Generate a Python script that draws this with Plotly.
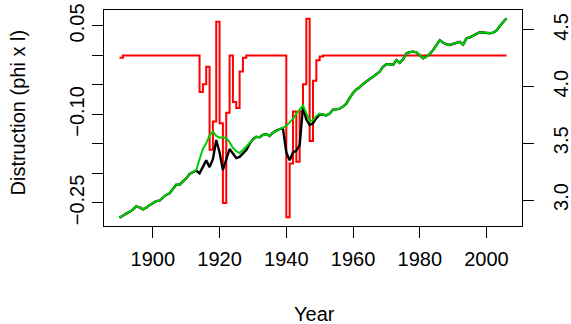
import plotly.graph_objects as go

years = list(range(1890, 2007))

distruction = [
    -0.004, 0.0, 0.0, 0.0, 0.0, 0.0, 0.0, 0.0, 0.0, 0.0,          # 1890-1899
    0.0, 0.0, 0.0, 0.0, 0.0, 0.0, 0.0, 0.0, 0.0, 0.0,             # 1900-1909
    0.0, 0.0, 0.0, 0.0, -0.062, -0.049, -0.019, -0.160, -0.112, 0.057,  # 1910-1919
    -0.115, -0.250, -0.097, 0.0, -0.079, -0.089, -0.027, -0.004, 0.0, 0.0,  # 1920-1929
    0.0, 0.0, 0.0, 0.0, 0.0, 0.0, 0.0, 0.0, 0.0, 0.0,             # 1930-1939
    -0.274, -0.183, -0.095, -0.180, -0.095, -0.049, 0.062, -0.145, -0.043, -0.008,  # 1940-1949
    -0.002, 0.0, 0.0, 0.0, 0.0, 0.0, 0.0, 0.0, 0.0, 0.0,          # 1950-1959
    0.0, 0.0, 0.0, 0.0, 0.0, 0.0, 0.0, 0.0, 0.0, 0.0,             # 1960-1969
    0.0, 0.0, 0.0, 0.0, 0.0, 0.0, 0.0, 0.0, 0.0, 0.0,             # 1970-1979
    0.0, 0.0, 0.0, 0.0, 0.0, 0.0, 0.0, 0.0, 0.0, 0.0,             # 1980-1989
    0.0, 0.0, 0.0, 0.0, 0.0, 0.0, 0.0, 0.0, 0.0, 0.0,             # 1990-1999
    0.0, 0.0, 0.0, 0.0, 0.0, 0.0, 0.0,                            # 2000-2006
]

observed = [
    2.844, 2.865, 2.880, 2.895, 2.915, 2.945, 2.935, 2.918, 2.932, 2.955,  # 1890s
    2.975, 2.990, 2.995, 3.020, 3.045, 3.060, 3.095, 3.135, 3.135, 3.160,  # 1900s
    3.190, 3.230, 3.245, 3.260, 3.235, 3.300, 3.350, 3.290, 3.360, 3.530,  # 1910s
    3.420, 3.265, 3.360, 3.450, 3.410, 3.370, 3.380, 3.410, 3.440, 3.495,  # 1920s
    3.535, 3.558, 3.553, 3.574, 3.582, 3.565, 3.594, 3.612, 3.625, 3.630,  # 1930s
    3.420, 3.350, 3.420, 3.435, 3.485, 3.820, 3.710, 3.662, 3.677, 3.722,  # 1940s
    3.755, 3.755, 3.745, 3.762, 3.798, 3.800, 3.806, 3.824, 3.850, 3.900,  # 1950s
    3.945, 3.975, 3.995, 4.024, 4.050, 4.068, 4.088, 4.109, 4.132, 4.176,  # 1960s
    4.197, 4.197, 4.191, 4.235, 4.210, 4.241, 4.294, 4.305, 4.309, 4.303,  # 1970s
    4.279, 4.250, 4.265, 4.288, 4.324, 4.368, 4.410, 4.388, 4.374, 4.368,  # 1980s
    4.376, 4.386, 4.395, 4.370, 4.426, 4.435, 4.447, 4.465, 4.480, 4.476,  # 1990s
    4.471, 4.471, 4.476, 4.494, 4.535, 4.573, 4.603,                       # 2000s
]

counterfactual = [
    2.844, 2.865, 2.880, 2.895, 2.915, 2.945, 2.935, 2.918, 2.932, 2.955,  # 1890s
    2.975, 2.990, 2.995, 3.020, 3.045, 3.060, 3.095, 3.135, 3.135, 3.160,  # 1900s
    3.190, 3.230, 3.245, 3.265, 3.360, 3.450, 3.500, 3.570, 3.603, 3.565,  # 1910s
    3.550, 3.553, 3.545, 3.510, 3.460, 3.430, 3.415, 3.440, 3.470, 3.505,  # 1920s
    3.535, 3.558, 3.553, 3.574, 3.582, 3.565, 3.594, 3.612, 3.625, 3.638,  # 1930s
    3.655, 3.685, 3.715, 3.760, 3.800, 3.835, 3.765, 3.695, 3.705, 3.742,  # 1940s
    3.762, 3.755, 3.745, 3.762, 3.798, 3.800, 3.806, 3.824, 3.850, 3.900,  # 1950s
    3.945, 3.975, 3.995, 4.024, 4.050, 4.068, 4.088, 4.109, 4.132, 4.176,  # 1960s
    4.197, 4.197, 4.191, 4.235, 4.210, 4.241, 4.294, 4.305, 4.309, 4.303,  # 1970s
    4.279, 4.250, 4.265, 4.288, 4.324, 4.368, 4.410, 4.388, 4.374, 4.368,  # 1980s
    4.376, 4.386, 4.395, 4.370, 4.426, 4.435, 4.447, 4.465, 4.480, 4.476,  # 1990s
    4.471, 4.471, 4.476, 4.494, 4.535, 4.573, 4.603,                       # 2000s
]

x_ticks = [1900, 1920, 1940, 1960, 1980, 2000]
left_ticks = [-0.25, -0.20, -0.15, -0.10, -0.05, 0.0, 0.05]
left_labels = ["\u22120.25", "", "", "\u22120.10", "", "", "0.05"]
right_ticks = [3.0, 3.5, 4.0, 4.5]
right_labels = ["3.0", "3.5", "4.0", "4.5"]

FONT = "Liberation Sans, Arial, Helvetica, sans-serif"

fig = go.Figure()
fig.add_trace(go.Scatter(x=years, y=distruction, mode="lines", line=dict(color="#FF0000", width=2, shape="hv"),
                         yaxis="y", showlegend=False))
fig.add_trace(go.Scatter(x=years, y=observed, mode="lines", line=dict(color="#000000", width=2.4),
                         yaxis="y2", showlegend=False))
fig.add_trace(go.Scatter(x=years, y=counterfactual, mode="lines", line=dict(color="#00CD00", width=2),
                         yaxis="y2", showlegend=False))

fig.update_layout(
    width=571, height=324,
    margin=dict(l=104, r=49, t=10, b=98, autoexpand=False),
    paper_bgcolor="white", plot_bgcolor="white",
    font=dict(family=FONT, size=20, color="black"),
    xaxis=dict(range=[1885.36, 2010.64], tickvals=x_ticks, ticks="outside", ticklen=11, tickwidth=1,
               tickcolor="black", showgrid=False, zeroline=False, showline=True, linecolor="black",
               linewidth=1, mirror=True, tickfont=dict(size=20), automargin=False, ticklabelstandoff=4),
    yaxis=dict(range=[-0.289, 0.077], tickvals=left_ticks, ticktext=left_labels, ticks="outside",
               ticklen=11, tickwidth=1, tickcolor="black", tickangle=-90, showgrid=False, zeroline=False,
               showline=True, linecolor="black", linewidth=1, mirror=True, tickfont=dict(size=20),
               automargin=False),
    yaxis2=dict(range=[2.771, 4.676], tickvals=right_ticks, ticktext=right_labels, overlaying="y",
                side="right", ticks="outside", ticklen=11, tickwidth=1, tickcolor="black", tickangle=-90,
                showgrid=False, zeroline=False, showline=False, tickfont=dict(size=20), automargin=False,
                ticklabelstandoff=10),
    annotations=[
        dict(text="Year", xref="paper", yref="paper", x=0.504, y=-0.408, xanchor="center",
             yanchor="middle", showarrow=False, font=dict(size=20)),
        dict(text="Distruction (phi x l)", xref="paper", yref="paper", x=-0.2057, y=0.5255,
             xanchor="center", yanchor="middle", textangle=-90, showarrow=False, font=dict(size=20)),
    ],
)

fig.write_html("out.html", config={"displayModeBar": False},
               post_script="document.body.style.margin='0';document.body.style.overflow='hidden';")
